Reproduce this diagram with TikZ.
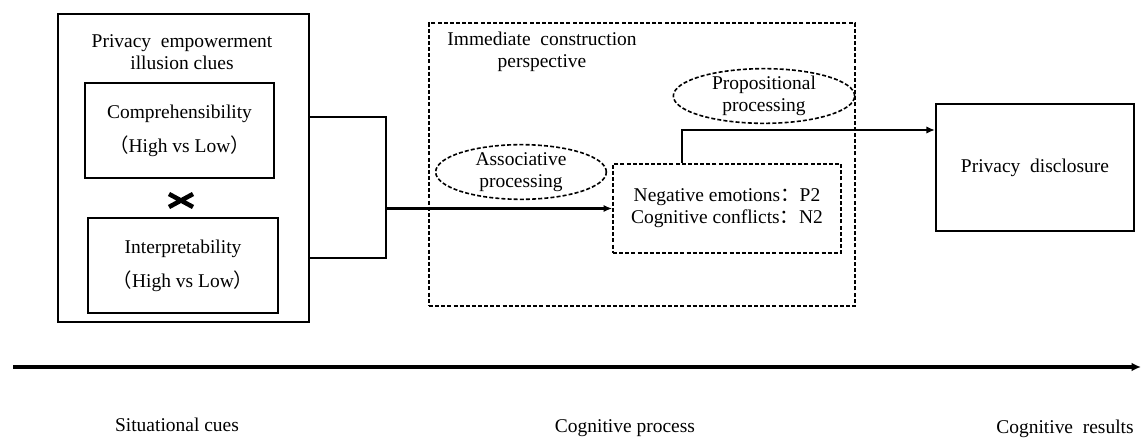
\documentclass[tikz,border=0pt]{standalone}
\usepackage{fontspec}
\setmainfont{Liberation Serif}
\newfontfamily\cjk{Noto Sans CJK SC}
\usetikzlibrary{arrows.meta}

\begin{document}
\begin{tikzpicture}[x=0.75pt,y=-0.75pt,
        every node/.style={font=\fontsize{14.6pt}{16.5pt}\selectfont, align=center},
        frame/.style={draw, line width=1.7pt, inner sep=0pt},
        dframe/.style={draw, line width=1.2pt, dash pattern=on 3pt off 1.6pt, inner sep=0pt},
        link/.style={line width=1.8pt},
        arrow/.style={line width=1.8pt, -{Latex[length=6.5pt,width=5.5pt]}}]
                \useasboundingbox (0,0) rectangle (1146,438);

                \node[frame, minimum width=188.25pt, minimum height=231pt] (cues) at (183.5,168) {};
                \node[dframe, minimum width=319.5pt, minimum height=212.25pt] (construal) at (642,164.5) {};

                \node (cuestitle) at (182,52) {Privacy\ \ empowerment\\illusion clues};
                \node (constitle) at (542,52) {Immediate\ \ construction\\perspective};

                \node[frame, line width=1.5pt, minimum width=141.75pt, minimum height=71.25pt] (comp) at (179.5,130.5)
                    {Comprehensibility\\[9pt]{\cjk （}High vs Low{\cjk ）}};
                \node[frame, line width=1.5pt, minimum width=142.5pt, minimum height=71.25pt] (interp) at (183,265.5)
                    {Interpretability\\[9pt]{\cjk （}High vs Low{\cjk ）}};

                \draw[line width=3.4pt] (169,194) -- (193,207) (169,207) -- (193,194);

                \node[dframe, minimum width=171pt, minimum height=66.75pt] (emo) at (727,208.5)
                    {Negative emotions{\cjk ：}P2\\Cognitive conflicts{\cjk ：}N2};
                \node (assoc) at (521,172) {Associative\\processing};
                \node (propos) at (764,96) {Propositional\\processing};
                \draw[line width=1.2pt, dash pattern=on 3pt off 1.6pt] (assoc.center) ellipse [x radius=64pt, y radius=20.5pt];
                \draw[line width=1.2pt, dash pattern=on 3pt off 1.6pt] (propos.center) ellipse [x radius=68pt, y radius=20.5pt];

                \node[frame, line width=1.5pt, minimum width=148.5pt, minimum height=95.25pt] (discl) at (1035,167.5) {Privacy\ \ disclosure};

                \coordinate (jtop) at (386,117);
                \coordinate (jbot) at (386,258);
                \coordinate (bend) at (682,130);
                \draw[link] (cues.east |- jtop) -- (jtop) -- (jbot) -- (cues.east |- jbot);
                \draw[arrow] (jtop |- emo.west) -- (emo.west);
                \draw[arrow] (emo.north -| bend) -- (bend) -- (bend -| discl.west);

                \coordinate (axisL) at (13,367);
                \coordinate (axisR) at (1141,367);
                \draw[line width=2.5pt, -{Latex[length=7pt,width=6.5pt]}] (axisL) -- (axisR);

                \node[anchor=base] (situ) at (177,431) {Situational cues};
                \node[anchor=base] (proc) at (625,432) {Cognitive process};
                \node[anchor=base] (res) at (1065,433) {Cognitive\ \ results};
            \end{tikzpicture}
\end{document}
